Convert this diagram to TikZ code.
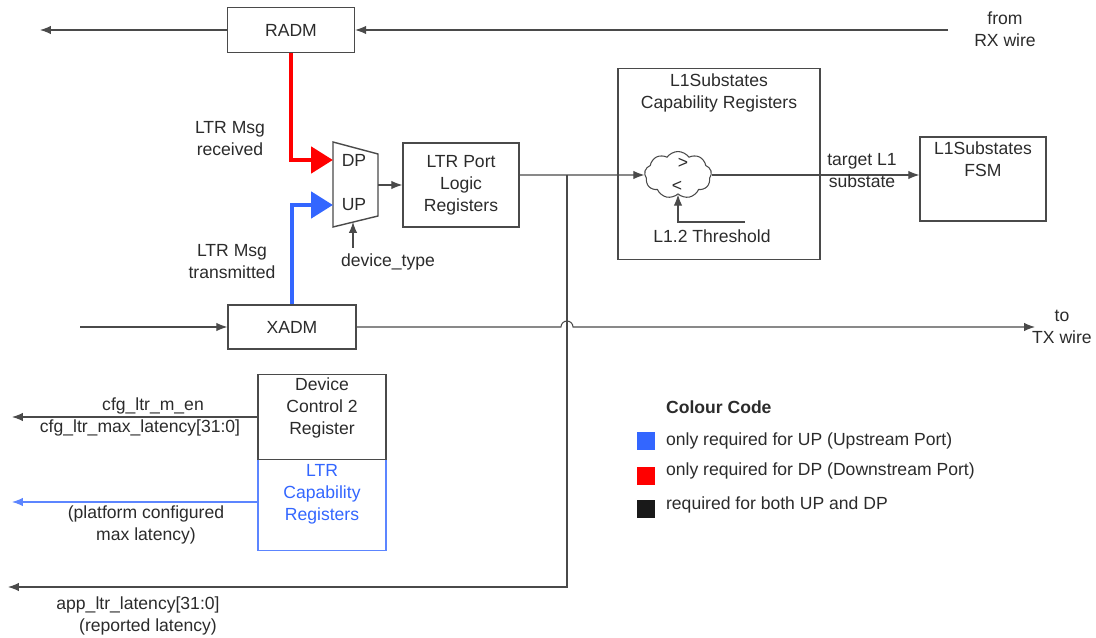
\documentclass[tikz,border=0pt]{standalone}
\usepackage{fontspec}
\setmainfont{Liberation Sans}
\usetikzlibrary{arrows.meta,positioning,shapes.symbols}
\definecolor{wire}{HTML}{4A4A4A}
\definecolor{txt}{HTML}{2B2B2B}
\definecolor{upBlue}{HTML}{3366FF}
\definecolor{dpRed}{HTML}{FF0000}
\tikzset{
  blk/.style  = {draw=wire, line width=0.8pt, inner sep=0pt},
  tx/.style   = {font=\fontsize{10}{12.5}\selectfont, text=txt, align=center, inner sep=1pt},
  ar/.style   = {-{Latex[length=2.2mm,width=1.7mm]}, draw=wire, line width=0.6pt},
  arb/.style  = {ar, draw=upBlue!80},
  fat/.style  = {-{Triangle[length=4.4mm,width=5.2mm]}, line width=2.8pt},
  sq/.style   = {minimum size=0.36cm, inner sep=0pt},
}
\begin{document}
\begin{tikzpicture}[x=0.02cm, y=-0.02cm]
  \useasboundingbox (0,0) rectangle (1096,638);
  % receive side
  \node[blk, minimum width=2.54cm, minimum height=0.9cm, tx] (radm) at (291,30) {RADM};
  \node[tx] (rxlbl) at (1005,29) {from\\RX wire};
  \coordinate (rxin) at (948,30);
  \coordinate (radmout) at (40,30);
  \draw[ar] (rxin) -- (radm.east);
  \draw[ar] (radm.west) -- (radmout);

  % mux
  \coordinate (m1) at (333,142);
  \coordinate (m2) at (378,154);
  \coordinate (m3) at (378,216);
  \coordinate (m4) at (333,227);
  \draw[blk] (m1) -- (m2) -- (m3) -- (m4) -- cycle;
  \node[tx] (dp) at (354,160) {DP};
  \node[tx] (up) at (354,205) {UP};
  \coordinate (dpin) at (333,160);
  \coordinate (upin) at (333,205);
  \coordinate (muxout) at (378,185);
  \node[tx] (rcvlbl) at (230,139) {LTR Msg\\received};
  \node[tx] (xmtlbl) at (232,262) {LTR Msg\\transmitted};
  \node[tx] (devtype) at (388,262) {device\_type};
  \coordinate (devin) at (353,222);
  \coordinate (devtail) at (353,248);
  \draw[ar] (devtail) -- (devin);

  \node[blk, minimum width=2.32cm, minimum height=1.68cm, tx] (ltrport) at (461,185) {LTR Port\\Logic\\Registers};
  \draw[ar] (muxout) -- (ltrport.west |- muxout);

  % transmit side
  \node[blk, minimum width=2.56cm, minimum height=0.88cm, tx] (xadm) at (292,327) {XADM};
  \coordinate (xin) at (80,327);
  \coordinate (hop) at (561,327);
  \coordinate (txout) at (1035,327);
  \node[tx] (txlbl) at (1062,327) {to\\TX wire};
  \draw[ar] (xin) -- (xadm.west);
  \draw[ar] (xadm.east) -- (hop) arc[start angle=180, end angle=0, radius=0.12cm] -- (txout);

  \draw[fat, draw=dpRed] (radm.south) |- (dpin);
  \draw[fat, draw=upBlue] (xadm.north) |- (upin);

  % L1 substates
  \node[blk, minimum width=4.04cm, minimum height=3.82cm] (l1cap) at (719,164) {};
  \node[tx] (l1title) at (719,93) {L1Substates\\Capability Registers};
  \node[draw=wire, line width=0.6pt, cloud, cloud puffs=9, cloud puff arc=110, cloud ignores aspect,
        minimum width=1.34cm, minimum height=0.94cm, inner sep=0pt] (cmp) at (678,175) {};
  \node[tx] (gt) at (683,163) {>};
  \node[tx] (lt) at (677,186) {<};
  \coordinate (thr) at (745,222);
  \node[tx] (thrlbl) at (712,236) {L1.2 Threshold};
  \draw[ar] (thr) -| (cmp.south);

  \node[blk, minimum width=2.52cm, minimum height=1.68cm] (fsm) at (983,179) {};
  \node[tx] (fsmtxt) at (983,159) {L1Substates\\FSM};
  \draw[ar] (cmp.east) -- (fsm.west |- cmp.east);
  \node[tx] (tgtlbl) at (862,171) {target L1\\substate};

  % LTR port output
  \coordinate (junc) at (567,175);
  \coordinate (latout) at (8,587);
  \draw[ar] (ltrport.east |- junc) -- (cmp.west);
  \draw[ar] (junc) |- (latout);
  \node[tx] (applat) at (138,605) {app\_ltr\_latency[31:0]};
  \node[tx] (replat) at (148,627) {(reported latency)};

  % config registers
  \node[blk, draw=upBlue!80, minimum width=2.56cm, minimum height=1.82cm] (ltrcap) at (322,505) {};
  \node[blk, minimum width=2.56cm, minimum height=1.70cm] (devctl) at (322,417) {};
  \node[tx] (devtxt) at (322,408) {Device\\Control 2\\Register};
  \node[tx, text=upBlue] (captxt) at (322,494) {LTR\\Capability\\Registers};
  \coordinate (cfgout) at (12,417);
  \coordinate (platout) at (12,502);
  \draw[ar] (devctl.west) -- (cfgout);
  \draw[arb] (ltrcap.west |- platout) -- (platout);
  \node[tx] (cfgen) at (153,406) {cfg\_ltr\_m\_en};
  \node[tx] (cfgmax) at (140,428) {cfg\_ltr\_max\_latency[31:0]};
  \node[tx] (platlbl) at (146,525) {(platform configured\\max latency)};

  % colour code
  \node[tx, font=\fontsize{10}{12.5}\selectfont\bfseries, anchor=west] (cchead) at (664,407) {Colour Code};
  \node[sq, fill=upBlue] (kup) at (646,441) {};
  \node[sq, fill=dpRed] (kdp) at (646,476) {};
  \node[sq, fill=black!90] (kboth) at (646,509) {};
  \node[tx, anchor=west] (kuptxt) at (664,441) {only required for UP (Upstream Port)};
  \node[tx, anchor=west] (kdptxt) at (664,471) {only required for DP (Downstream Port)};
  \node[tx, anchor=west] (kbothtxt) at (664,505) {required for both UP and DP};
\end{tikzpicture}
\end{document}
